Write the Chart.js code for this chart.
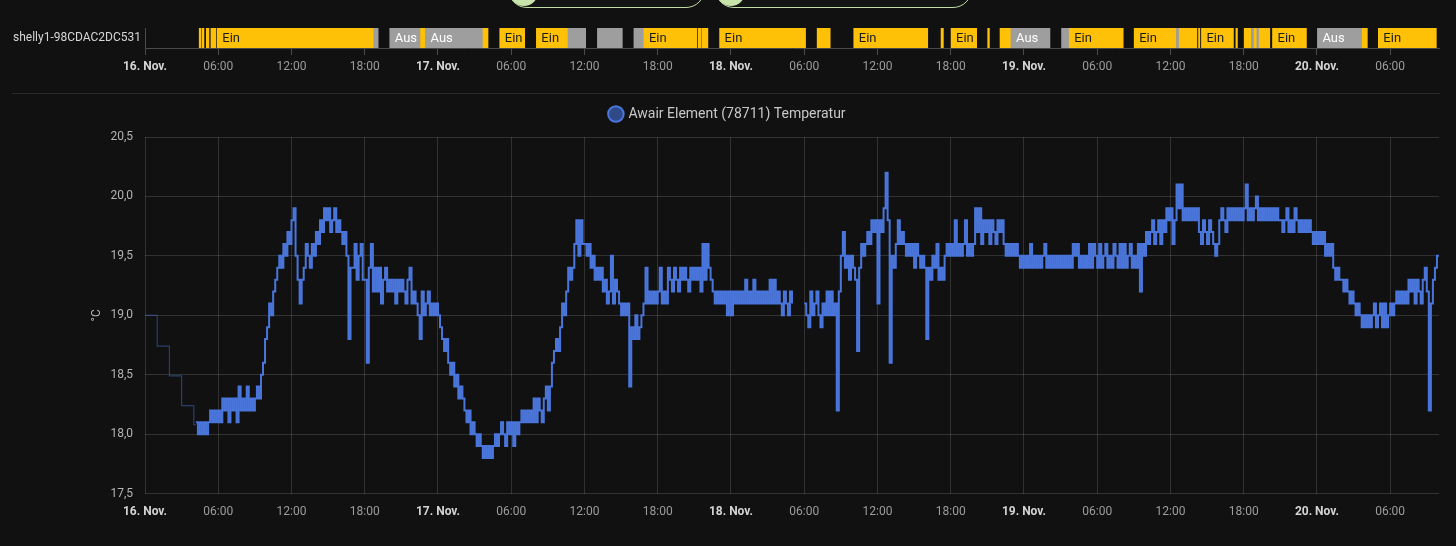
<!DOCTYPE html>
<html>
<head>
<meta charset="utf-8">
<script src="https://cdn.jsdelivr.net/npm/chart.js@4/dist/chart.umd.min.js"></script>
<style>
  body { margin: 0; background: #111111; width: 1456px; height: 546px; overflow: hidden; position: relative; font-family: Roboto, sans-serif; }
  .box { position: absolute; left: 0; width: 1456px; }
  .pill { position: absolute; top: -30px; height: 38px; border: 1.5px solid #c2dca4; border-radius: 20px; box-sizing: border-box; background: #141414; }
  .pill .dot { position: absolute; left: 1px; bottom: 1px; width: 28px; height: 28px; border-radius: 50%; background: #c8e4aa; }
  .sep { position: absolute; top: 93px; left: 12px; width: 1428px; height: 1px; background: #2c2c2c; }
</style>
</head>
<body>
<div class="pill" style="left:508px;width:197px"><div class="dot"></div></div>
<div class="pill" style="left:715px;width:257px"><div class="dot"></div></div>
<div class="box" style="top:0;height:90px"><canvas id="timeline"></canvas></div>
<div class="sep"></div>
<div class="box" style="top:95px;height:451px"><canvas id="temps"></canvas></div>
<script>
// hours counted from 16. Nov. 00:00
const dayLabels = ['16. Nov.', '17. Nov.', '18. Nov.', '19. Nov.', '20. Nov.'];
const hourLabels = ['06:00', '12:00', '18:00'];
const X_MAX = 106;

const deviceName = 'shelly1-98CDAC2DC531';
const segStart = [4.44, 4.67, 5.02, 5.40, 5.92, 18.74, 20.05, 22.57, 22.98, 27.69,
  29.06, 32.06, 34.65, 37.06, 40.05, 40.87, 45.32, 45.65, 47.07, 55.06,
  58.06, 65.21, 66.03, 69.03, 70.04, 70.94, 75.08, 75.71, 81.03, 84.50,
  84.72, 86.30, 86.54, 89.36, 90.04, 90.64, 90.86, 91.08, 91.27, 92.36,
  96.04, 99.72, 101.03];
const segEnd = [4.58, 4.83, 5.24, 5.81, 18.74, 19.10, 22.57, 22.98, 27.69, 28.10,
  31.10, 34.65, 36.10, 39.10, 40.87, 45.21, 45.57, 46.11, 54.11, 56.13,
  64.12, 65.40, 68.13, 69.17, 70.94, 74.13, 75.71, 80.13, 84.50, 84.72,
  86.17, 86.41, 89.16, 89.49, 90.64, 90.86, 91.08, 91.27, 92.14, 95.14,
  99.72, 100.13, 105.78];
const segState = ['Ein', 'Ein', 'Ein', 'Ein', 'Ein', 'Aus', 'Aus', 'Ein', 'Aus', 'Ein',
  'Ein', 'Ein', 'Aus', 'Aus', 'Aus', 'Ein', 'Ein', 'Ein', 'Ein', 'Ein',
  'Ein', 'Ein', 'Ein', 'Ein', 'Ein', 'Aus', 'Aus', 'Ein', 'Ein', 'Aus',
  'Ein', 'Ein', 'Ein', 'Ein', 'Ein', 'Aus', 'Ein', 'Aus', 'Ein', 'Ein',
  'Aus', 'Ein', 'Ein'];

const seriesName = 'Awair Element (78711) Temperatur';
// hourly statistics before the detailed history starts
const statTimes = [0, 1, 2, 3, 4, 4.17];
const statValues = [19.0, 18.74, 18.49, 18.24, 18.08, 18.08];

// 10 minute samples, one row per hour
const nov16 = [ // starts 04:10
  18.1, 18.0, 18.1, 18.0, 18.1,
  18.0, 18.1, 18.2, 18.1, 18.2, 18.1,
  18.2, 18.1, 18.3, 18.2, 18.3, 18.1,
  18.3, 18.2, 18.3, 18.1, 18.4, 18.2,
  18.3, 18.2, 18.4, 18.2, 18.3, 18.2,
  18.3, 18.4, 18.3, 18.5, 18.6, 18.8,
  18.9, 19.1, 19.0, 19.2, 19.3, 19.4,
  19.5, 19.4, 19.6, 19.5, 19.7, 19.6,
  19.8, 19.9, 19.5, 19.3, 19.1, 19.3,
  19.4, 19.6, 19.5, 19.4, 19.6, 19.5,
  19.7, 19.6, 19.8, 19.7, 19.9, 19.8,
  19.9, 19.7, 19.8, 19.9, 19.7, 19.8,
  19.7, 19.6, 19.7, 19.5, 18.8, 19.4,
  19.4, 19.6, 19.3, 19.5, 19.6, 19.3,
  19.3, 18.6, 19.4, 19.6, 19.2, 19.4,
  19.2, 19.4, 19.1, 19.3, 19.4, 19.2,
  19.3, 19.2, 19.3, 19.1, 19.3, 19.2,
  19.3, 19.2, 19.1, 19.3, 19.4, 19.1,
  19.2, 19.1, 19.0, 18.8, 19.2, 19.0,
  19.1, 19.2, 19.0, 19.1, 19.0, 19.1
];
const nov17 = [
  19.0, 18.9, 18.8, 18.7, 18.8, 18.6,
  18.5, 18.6, 18.4, 18.5, 18.3, 18.4,
  18.3, 18.2, 18.1, 18.2, 18.0, 18.1,
  18.0, 17.9, 18.0, 17.9, 17.8, 17.9,
  17.8, 17.9, 17.8, 17.9, 18.0, 17.9,
  18.0, 18.1, 18.0, 17.9, 18.1, 18.0,
  18.1, 17.9, 18.1, 18.0, 18.1, 18.2,
  18.1, 18.2, 18.1, 18.2, 18.1, 18.3,
  18.1, 18.3, 18.2, 18.1, 18.3, 18.4,
  18.2, 18.4, 18.6, 18.7, 18.8, 18.7,
  18.9, 19.1, 19.0, 19.2, 19.4, 19.3,
  19.4, 19.6, 19.8, 19.5, 19.8, 19.6,
  19.6, 19.5, 19.6, 19.4, 19.5, 19.3,
  19.4, 19.3, 19.4, 19.2, 19.3, 19.1,
  19.2, 19.5, 19.1, 19.3, 19.2, 19.1,
  19.0, 19.1, 19.0, 19.1, 18.4, 18.9,
  18.8, 19.0, 18.8, 18.9, 19.0, 19.1,
  19.4, 19.1, 19.2, 19.1, 19.2, 19.1,
  19.2, 19.4, 19.1, 19.2, 19.1, 19.4,
  19.3, 19.2, 19.4, 19.3, 19.2, 19.4,
  19.3, 19.4, 19.3, 19.2, 19.4, 19.3,
  19.4, 19.3, 19.4, 19.2, 19.6, 19.3,
  19.6, 19.4, 19.3, 19.2, 19.1, 19.2,
  19.1, 19.2, 19.1, 19.2, 19.0, 19.2
];
const nov18 = [
  19.0, 19.2, 19.1, 19.2, 19.1, 19.2,
  19.1, 19.3, 19.1, 19.2, 19.1, 19.3,
  19.1, 19.2, 19.1, 19.2, 19.1, 19.2,
  19.1, 19.3, 19.1, 19.3, 19.1, 19.2,
  19.1, 19.0, 19.2, 19.1, 19.0, 19.2,
  19.1, null, null, null, null, null,
  19.1, 19.0, 18.9, 19.2, 19.0, 19.1,
  19.2, 19.0, 18.9, 19.1, 19.0, 19.2,
  19.0, 19.2, 19.0, 19.1, 18.2, 19.2,
  19.5, 19.7, 19.4, 19.5, 19.3, 19.5,
  19.4, 19.3, 18.7, 19.4, 19.6, 19.5,
  19.6, 19.7, 19.6, 19.8, 19.7, 19.8,
  19.1, 19.8, 19.7, 19.9, 20.2, 19.8,
  18.6, 19.5, 19.4, 19.6, 19.8, 19.6,
  19.7, 19.6, 19.5, 19.6, 19.5, 19.6,
  19.4, 19.6, 19.5, 19.4, 19.5, 19.4,
  18.8, 19.4, 19.3, 19.5, 19.4, 19.6,
  19.3, 19.4, 19.3, 19.5, 19.6, 19.5,
  19.6, 19.5, 19.8, 19.5, 19.6, 19.5,
  19.6, 19.8, 19.5, 19.6, 19.5, 19.6,
  19.9, 19.7, 19.9, 19.6, 19.8, 19.7,
  19.8, 19.6, 19.8, 19.7, 19.6, 19.8,
  19.7, 19.8, 19.6, 19.5, 19.6, 19.5,
  19.6, 19.5, 19.6, 19.5, 19.4, 19.5
];
const nov19 = [
  19.4, 19.5, 19.4, 19.6, 19.4, 19.5,
  19.4, 19.5, 19.4, 19.5, 19.6, 19.4,
  19.5, 19.4, 19.5, 19.4, 19.5, 19.4,
  19.5, 19.4, 19.5, 19.4, 19.5, 19.4,
  19.6, 19.5, 19.6, 19.4, 19.5, 19.4,
  19.5, 19.4, 19.6, 19.4, 19.6, 19.5,
  19.4, 19.6, 19.4, 19.5, 19.6, 19.4,
  19.5, 19.4, 19.6, 19.5, 19.4, 19.6,
  19.4, 19.6, 19.4, 19.5, 19.6, 19.4,
  19.5, 19.4, 19.6, 19.2, 19.6, 19.5,
  19.7, 19.6, 19.7, 19.8, 19.6, 19.7,
  19.8, 19.6, 19.8, 19.7, 19.9, 19.8,
  19.9, 19.6, 19.8, 20.1, 19.9, 20.1,
  19.8, 19.9, 19.8, 19.9, 19.8, 19.9,
  19.8, 19.9, 19.7, 19.6, 19.8, 19.7,
  19.6, 19.8, 19.7, 19.6, 19.5, 19.6,
  19.8, 19.9, 19.8, 19.7, 19.9, 19.8,
  19.9, 19.8, 19.9, 19.8, 19.9, 19.8,
  19.9, 20.1, 19.8, 19.9, 19.8, 19.9,
  20.0, 19.8, 19.9, 19.8, 19.9, 19.8,
  19.9, 19.8, 19.9, 19.8, 19.9, 19.8,
  19.8, 19.7, 19.8, 19.9, 19.7, 19.8,
  19.7, 19.9, 19.8, 19.7, 19.8, 19.7,
  19.8, 19.7, 19.8, 19.7, 19.6, 19.7
];
const nov20 = [
  19.6, 19.7, 19.6, 19.7, 19.5, 19.6,
  19.5, 19.6, 19.4, 19.3, 19.4, 19.3,
  19.3, 19.2, 19.3, 19.2, 19.1, 19.2,
  19.1, 19.0, 19.1, 19.0, 18.9, 19.0,
  18.9, 19.0, 18.9, 19.0, 19.1, 18.9,
  19.0, 19.1, 18.9, 19.1, 18.9, 19.0,
  19.1, 19.0, 19.1, 19.2, 19.1, 19.2,
  19.1, 19.2, 19.1, 19.3, 19.2, 19.3,
  19.1, 19.3, 19.2, 19.1, 19.3, 19.4,
  19.2, 18.2, 19.1, 19.3, 19.4, 19.5,
  19.5
];
const dayStarts = [4 + 10 / 60, 24, 48, 72, 96];
const dayValues = [nov16, nov17, nov18, nov19, nov20];

Chart.defaults.font.family = 'Roboto';
Chart.defaults.animation = false;

function timeLabel(v) {
  if (v % 24 === 0) return dayLabels[v / 24];
  return hourLabels[(v % 24) / 6 - 1];
}
const tickFont = ctx => ({ family: 'Roboto', size: 12, weight: ctx.tick && ctx.tick.value % 24 === 0 ? 'bold' : 'normal' });
const tickColor = ctx => ctx.tick && ctx.tick.value % 24 === 0 ? '#d4d4d4' : '#9c9c9c';
const onlySixHours = scale => { scale.ticks = scale.ticks.filter(t => t.value % 6 === 0); };

// ---- timeline ----
const barLabels = {
  id: 'barLabels',
  afterDatasetsDraw(chart) {
    const ctx = chart.ctx;
    const meta = chart.getDatasetMeta(0);
    ctx.save();
    ctx.font = '13px Roboto';
    ctx.textBaseline = 'middle';
    meta.data.forEach((bar, i) => {
      const text = segState[i];
      const left = Math.min(bar.x, bar.base);
      const w = Math.abs(bar.x - bar.base);
      if (ctx.measureText(text).width + 6 > w) return;
      ctx.fillStyle = text === 'Ein' ? '#1c1c1c' : '#ffffff';
      ctx.fillText(text, left + 5, bar.y + 1);
    });
    ctx.restore();
  }
};

new Chart(document.getElementById('timeline'), {
  type: 'bar',
  data: {
    labels: [deviceName],
    datasets: [{
      data: segStart.map((s, i) => ({ y: deviceName, x: [s, segEnd[i]] })),
      backgroundColor: ctx => segState[ctx.dataIndex] === 'Ein' ? '#ffc107' : '#9e9e9e',
      barThickness: 20,
      borderSkipped: false
    }]
  },
  options: {
    indexAxis: 'y',
    responsive: true,
    maintainAspectRatio: false,
    layout: { padding: { left: 0, right: 17, top: 28, bottom: 14 } },
    plugins: { legend: { display: false }, tooltip: { enabled: false } },
    scales: {
      x: {
        type: 'linear', min: 0, max: X_MAX,
        afterBuildTicks: onlySixHours,
        afterFit: s => { s.height = 28; },
        ticks: { stepSize: 6, callback: timeLabel, font: tickFont, color: tickColor, padding: 5, maxRotation: 0, autoSkip: false },
        grid: { drawOnChartArea: false, drawTicks: true, tickLength: 7, color: '#4a4a4a' },
        border: { color: '#4a4a4a' }
      },
      y: {
        afterFit: s => { s.width = 145; },
        ticks: { color: '#d6d6d6', font: { size: 12 }, padding: 4 },
        grid: { display: false, drawTicks: false },
        border: { display: true, color: '#4a4a4a' }
      }
    }
  },
  plugins: [barLabels]
});

// ---- temperature ----
const tempPoints = [];
dayValues.forEach((vals, d) => {
  vals.forEach((v, i) => tempPoints.push({ x: dayStarts[d] + i / 6, y: v }));
});
const statPoints = statTimes.map((t, i) => ({ x: t, y: statValues[i] }));

// leave some room between legend and plot
const legendGap = {
  id: 'legendGap',
  beforeInit(chart) {
    const fit = chart.legend.fit;
    chart.legend.fit = function () {
      fit.call(this);
      this.height += 6;
    };
  }
};

new Chart(document.getElementById('temps'), {
  type: 'line',
  data: {
    datasets: [{
      label: seriesName,
      data: tempPoints,
      borderColor: '#4a76dc',
      backgroundColor: 'rgba(58, 92, 178, 0.75)',
      borderWidth: 2,
      pointRadius: 0,
      stepped: true,
      spanGaps: false
    }, {
      label: 'stats',
      data: statPoints,
      borderColor: 'rgba(74, 118, 220, 0.45)',
      borderWidth: 1.2,
      pointRadius: 0,
      stepped: true
    }]
  },
  options: {
    responsive: true,
    maintainAspectRatio: false,
    layout: { padding: { left: 17, right: 17, top: 2, bottom: 16 } },
    plugins: {
      tooltip: { enabled: false },
      legend: {
        labels: {
          color: '#c8c8c8', font: { size: 14 },
          usePointStyle: true, pointStyle: 'circle', boxWidth: 11, boxHeight: 11,
          filter: item => item.datasetIndex === 0
        }
      }
    },
    scales: {
      x: {
        type: 'linear', min: 0, max: X_MAX,
        afterBuildTicks: onlySixHours,
        ticks: { stepSize: 6, callback: timeLabel, font: tickFont, color: tickColor, padding: 11, maxRotation: 0, autoSkip: false },
        grid: { color: 'rgba(255,255,255,0.14)', drawTicks: false },
        border: { display: false }
      },
      y: {
        min: 17.5, max: 20.5,
        afterFit: s => { s.width = 128; },
        ticks: { stepSize: 0.5, padding: 12, color: '#b4b4b4', font: { size: 12 }, callback: v => v.toFixed(1).replace('.', ',') },
        grid: { color: 'rgba(255,255,255,0.14)', drawTicks: false },
        border: { display: false },
        title: { display: true, text: '°C', color: '#b4b4b4', font: { size: 12 }, padding: { top: 73, bottom: 4 } }
      }
    }
  },
  plugins: [legendGap]
});
</script>
</body>
</html>
